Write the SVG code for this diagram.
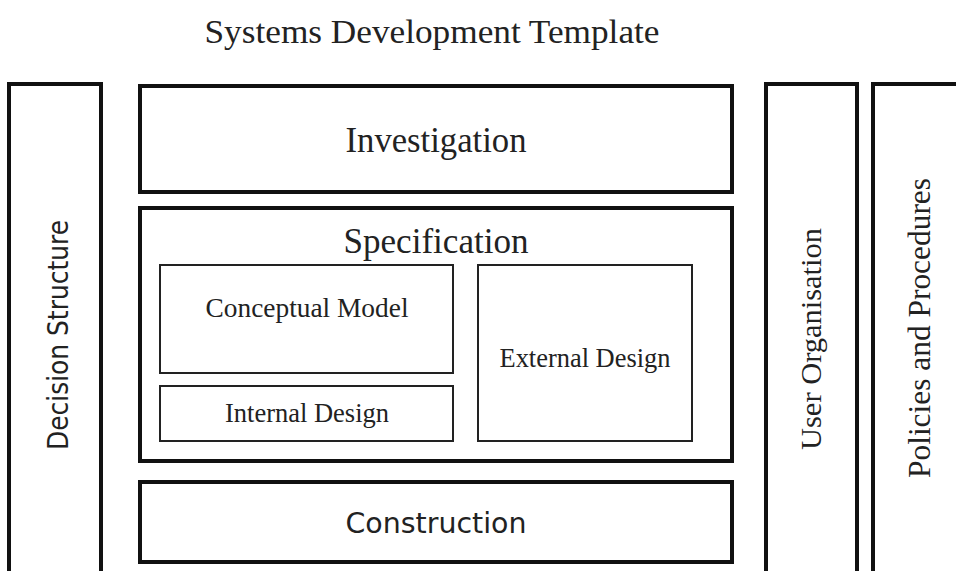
<svg xmlns="http://www.w3.org/2000/svg" width="956" height="571" viewBox="0 0 956 571">
<style>
.outer{fill:#fff;stroke:#111;stroke-width:4}
.inner{fill:#fff;stroke:#222;stroke-width:2}
.serif{font-family:"Liberation Serif","Times New Roman",serif;fill:#222;text-anchor:middle}
.sans{font-family:"DejaVu Sans","Liberation Sans",sans-serif;fill:#222;text-anchor:middle}
</style>
<rect width="956" height="571" fill="#fff"/>
<text class="serif" x="432" y="43" font-size="34" textLength="455" lengthAdjust="spacingAndGlyphs">Systems Development Template</text>
<g id="decision-structure">
<rect class="outer" x="9" y="84" width="92" height="500"/>
<text class="sans" transform="translate(68,335) rotate(-90)" font-size="28" textLength="230" lengthAdjust="spacingAndGlyphs">Decision Structure</text>
</g>
<g id="investigation">
<rect class="outer" x="140" y="86" width="592" height="106"/>
<text class="serif" x="436" y="152" font-size="35" textLength="181" lengthAdjust="spacingAndGlyphs">Investigation</text>
</g>
<g id="specification">
<rect class="outer" x="140" y="208" width="592" height="253"/>
<text class="serif" x="436" y="253" font-size="35" textLength="185" lengthAdjust="spacingAndGlyphs">Specification</text>
</g>
<g id="conceptual-model">
<rect class="inner" x="160" y="265" width="293" height="108"/>
<text class="serif" x="307" y="317" font-size="28" textLength="203" lengthAdjust="spacingAndGlyphs">Conceptual Model</text>
</g>
<g id="internal-design">
<rect class="inner" x="160" y="386" width="293" height="55"/>
<text class="serif" x="307" y="422" font-size="27" textLength="164" lengthAdjust="spacingAndGlyphs">Internal Design</text>
</g>
<g id="external-design">
<rect class="inner" x="478" y="265" width="214" height="176"/>
<text class="serif" x="585" y="367" font-size="27" textLength="171" lengthAdjust="spacingAndGlyphs">External Design</text>
</g>
<g id="construction">
<rect class="outer" x="140" y="482" width="592" height="80"/>
<text class="sans" x="436" y="533" font-size="29" textLength="181" lengthAdjust="spacingAndGlyphs">Construction</text>
</g>
<g id="user-organisation">
<rect class="outer" x="766" y="84" width="91" height="500"/>
<text class="serif" transform="translate(821,339) rotate(-90)" font-size="30" textLength="222" lengthAdjust="spacingAndGlyphs">User Organisation</text>
</g>
<g id="policies-and-procedures">
<rect class="outer" x="873" y="84" width="100" height="500"/>
<text class="serif" transform="translate(930,328) rotate(-90)" font-size="31" textLength="300" lengthAdjust="spacingAndGlyphs">Policies and Procedures</text>
</g>
<g id="connectors"/>
</svg>
